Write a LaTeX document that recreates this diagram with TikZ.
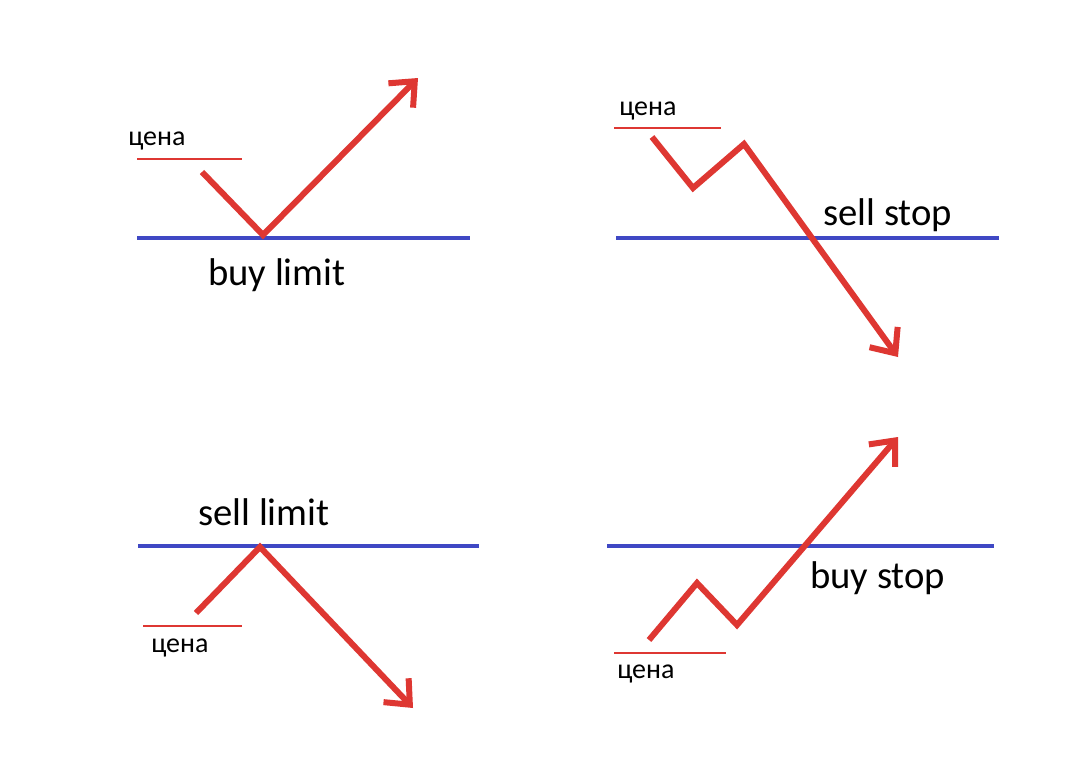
\documentclass[tikz,border=0pt]{standalone}
\usepackage{fontspec}
\setmainfont{Carlito}
\usetikzlibrary{arrows.meta}
\definecolor{pricered}{RGB}{222,55,50}
\definecolor{levelblue}{RGB}{63,72,196}
\begin{document}
\begin{tikzpicture}[x=0.75pt,y=-0.75pt,
  level/.style={draw=levelblue,line width=3pt},
  priceline/.style={draw=pricered,line width=0.9pt},
  move/.style={draw=pricered,line width=4.5pt,line join=miter,
    -{Straight Barb[length=15pt,width=26pt,line width=4.5pt]}},
  biglabel/.style={anchor=base west,inner sep=0pt,font=\fontsize{29}{32}\selectfont},
  pricelabel/.style={anchor=base west,inner sep=0pt,font=\fontsize{21}{24}\selectfont}]
\useasboundingbox[fill=white] (0,0) rectangle (1076,778);

% ---- panel 1: buy limit
\node[pricelabel] (p1) at (128,145) {цена};
\coordinate (p1a) at (137,159); \coordinate (p1b) at (242,159);
\draw[priceline] (p1a) -- (p1b);
\coordinate (l1a) at (137,238); \coordinate (l1b) at (470,238);
\draw[level] (l1a) -- (l1b);
\node[biglabel] (t1) at (208,285) {buy limit};
\coordinate (m1a) at (202,172); \coordinate (m1b) at (263,235); \coordinate (m1c) at (418,78);
\draw[move] (m1a) -- (m1b) -- (m1c);

% ---- panel 2: sell stop
\node[pricelabel] (p2) at (619,115) {цена};
\coordinate (p2a) at (614,128); \coordinate (p2b) at (721,128);
\draw[priceline] (p2a) -- (p2b);
\coordinate (l2a) at (616,238); \coordinate (l2b) at (999,238);
\draw[level] (l2a) -- (l2b);
\node[biglabel] (t2) at (823,225) {sell stop};
\coordinate (m2a) at (652,137); \coordinate (m2b) at (693,188); \coordinate (m2c) at (744,144); \coordinate (m2d) at (898,357);
\draw[move] (m2a) -- (m2b) -- (m2c) -- (m2d);

% ---- panel 3: sell limit
\node[biglabel] (t3) at (198,525) {sell limit};
\coordinate (l3a) at (138,546); \coordinate (l3b) at (479,546);
\draw[level] (l3a) -- (l3b);
\coordinate (p3a) at (143,626); \coordinate (p3b) at (242,626);
\draw[priceline] (p3a) -- (p3b);
\node[pricelabel] (p3) at (151,652) {цена};
\coordinate (m3a) at (196,613); \coordinate (m3b) at (260,547); \coordinate (m3c) at (413,708);
\draw[move] (m3a) -- (m3b) -- (m3c);

% ---- panel 4: buy stop
\coordinate (l4a) at (607,546); \coordinate (l4b) at (994,546);
\draw[level] (l4a) -- (l4b);
\node[biglabel] (t4) at (810,588) {buy stop};
\coordinate (p4a) at (614,653); \coordinate (p4b) at (726,653);
\draw[priceline] (p4a) -- (p4b);
\node[pricelabel] (p4) at (617,678) {цена};
\coordinate (m4a) at (649,640); \coordinate (m4b) at (697,583); \coordinate (m4c) at (737,625); \coordinate (m4d) at (898,437);
\draw[move] (m4a) -- (m4b) -- (m4c) -- (m4d);
\end{tikzpicture}
\end{document}
